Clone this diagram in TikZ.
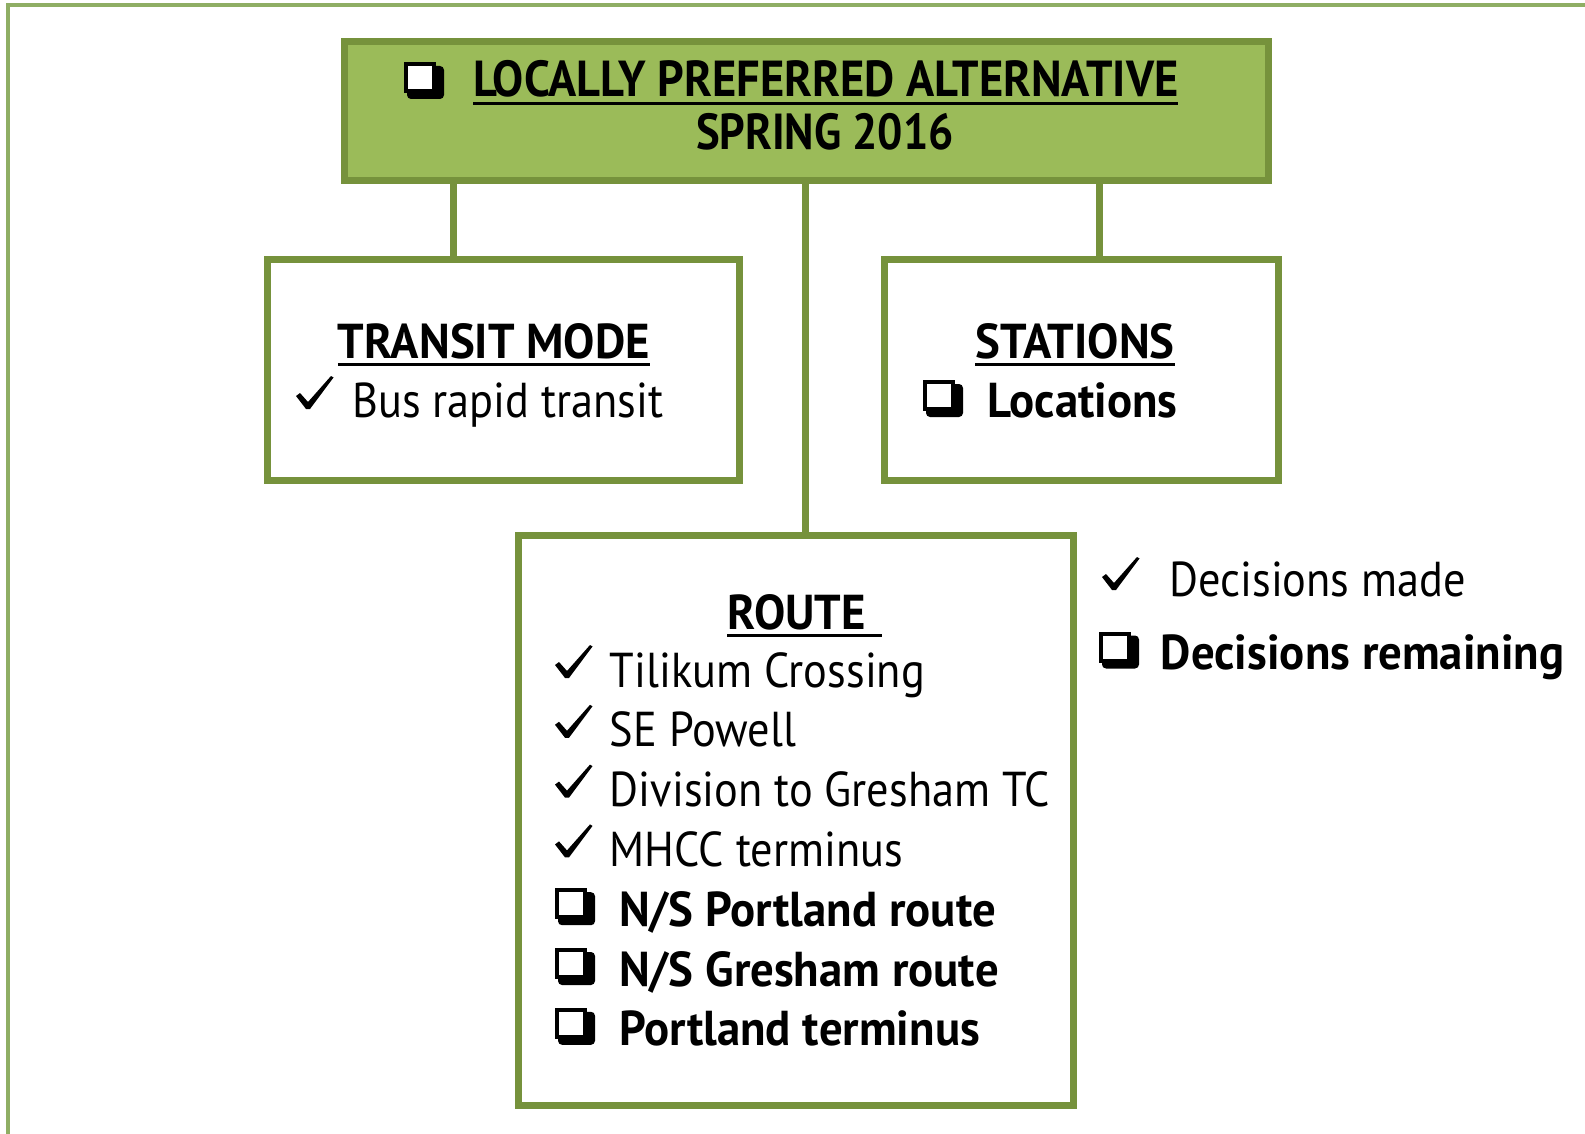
\documentclass[tikz,border=0pt]{standalone}
\usepackage{fontspec}
\setmainfont{PT Sans}[FakeStretch=0.905, BoldFeatures={FakeStretch=0.955}]
\usetikzlibrary{calc}

\definecolor{lpagreen}{HTML}{9BBB59}
\definecolor{lpaedge}{HTML}{76923C}
\definecolor{framegreen}{HTML}{8FAE64}

\newcommand{\undl}[1]{\vtop{\hbox{#1}\kern2pt\hrule height 1.5pt}}

\tikzset{
  greenbox/.style={draw=lpaedge, line width=3.5pt, fill=white, inner sep=0pt},
  link/.style={draw=lpaedge, line width=3.5pt},
  txt/.style={inner sep=0pt, anchor=base west, font=\fontsize{24.5}{29}\selectfont},
  boldtxt/.style={txt, font=\fontsize{24.5}{29}\bfseries},
  tickmark/.pic={\fill (0,20) -- (4,17) -- (12,26) -- (35,0) -- (37.5,1.5) -- (14,33) -- (10,33) -- cycle;},
  tickbox/.pic={\fill[rounded corners=2pt] (3,4) rectangle (40,37);
    \draw[line width=2pt, fill=white] (2,2) rectangle (30,29);},
}

\begin{document}
\begin{tikzpicture}[x=0.5pt, y=-0.5pt]
\useasboundingbox (0,0) rectangle (1585,1134);
% outer frame
\draw[framegreen, line width=2pt] (7.5,1134) -- (7.5,5) -- (1585,5);
% boxes
\node[greenbox, fill=lpagreen, minimum width=462pt, minimum height=69.5pt] (lpa) at (806,111.5) {};
\node[greenbox, minimum width=236pt, minimum height=110pt] (mode) at (503,370) {};
\node[greenbox, minimum width=197pt, minimum height=110pt] (stations) at (1081,370) {};
\node[greenbox, minimum width=277.5pt, minimum height=285pt] (route) at (795.5,820) {};
% links
\draw[link] ($(mode.north west)!.396!(mode.north east)$) coordinate (m1) -- (m1 |- lpa.south);
\draw[link] ($(route.north west)!.517!(route.north east)$) coordinate (r1) -- (r1 |- lpa.south);
\draw[link] ($(stations.north west)!.546!(stations.north east)$) coordinate (s1) -- (s1 |- lpa.south);

% title
\pic at (404,62) {tickbox};
\node[boldtxt, font=\fontsize{25.3}{29}\bfseries] (lpatitle) at (473,97)
  {\resizebox{352.5pt}{\height}{\undl{LOCALLY PREFERRED ALTERNATIVE}}};
\node[boldtxt, anchor=base, font=\fontsize{25.3}{29}\bfseries] (lpadate) at (825,150)
  {\resizebox{129pt}{\height}{SPRING 2016}};

% transit mode
\node[boldtxt, anchor=base] (modetitle) at (494,358) {\undl{TRANSIT MODE}};
\pic at (296,376) {tickmark};
\node[txt] (modebrt) at (352,417.5) {Bus rapid transit};

% stations
\node[boldtxt, anchor=base] (stattitle) at (1075,358) {\undl{STATIONS}};
\pic at (923,380) {tickbox};
\node[boldtxt] (statloc) at (987,417.5) {Locations};

% route
\node[boldtxt] (routetitle) at (727,629) {\undl{ROUTE\hspace{8pt}}};
\foreach \item [count=\i] in {Tilikum Crossing, SE Powell, Division to Gresham TC, MHCC terminus} {
  \pic at (555,627.2+59.8*\i-42) {tickmark};
  \node[txt] (ritem\i) at (609.5,627.2+59.8*\i) {\item};
}
\foreach \item [count=\i from 5] in {N/S Portland route, N/S Gresham route, Portland terminus} {
  \pic at (555,627.2+59.8*\i-38) {tickbox};
  \node[boldtxt] (ritem\i) at (618.7,627.2+59.8*\i) {\item};
}

% legend
\pic at (1102,557) {tickmark};
\node[txt] (legmade) at (1169,596.5) {Decisions made};
\pic at (1099,631.5) {tickbox};
\node[boldtxt] (legleft) at (1160.5,669) {Decisions remaining};
\end{tikzpicture}
\end{document}
